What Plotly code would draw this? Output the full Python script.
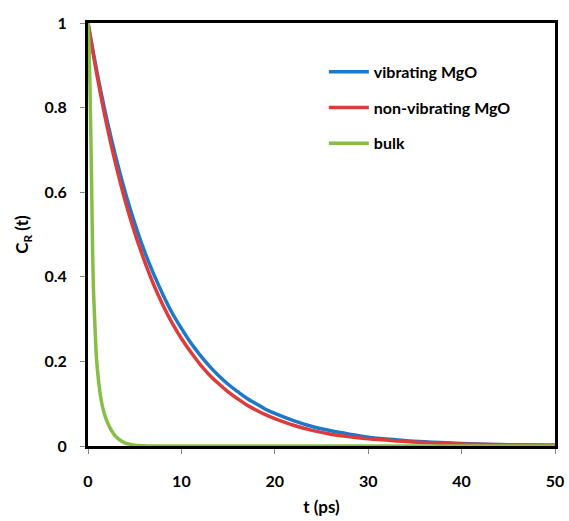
import plotly.graph_objects as go

# time (ps)
t_mgo = [0, 1, 2, 3, 4, 5, 6, 7, 8, 9, 10, 11, 12, 13, 14, 15, 16, 17, 18, 19, 20,
         22, 24, 26, 28, 30, 33, 36, 40, 45, 50]
vibrating = [1.000, 0.880, 0.774, 0.681, 0.599, 0.527, 0.463, 0.408, 0.359, 0.315, 0.278,
             0.244, 0.215, 0.189, 0.166, 0.146, 0.129, 0.113, 0.100, 0.087, 0.077,
             0.060, 0.046, 0.036, 0.028, 0.021, 0.015, 0.010, 0.006, 0.003, 0.002]
non_vibrating = [1.000, 0.872, 0.760, 0.663, 0.578, 0.504, 0.440, 0.383, 0.334, 0.291, 0.254,
                 0.222, 0.193, 0.168, 0.147, 0.128, 0.112, 0.097, 0.085, 0.074, 0.065,
                 0.049, 0.037, 0.028, 0.022, 0.017, 0.012, 0.008, 0.005, 0.003, 0.002]

t_bulk = [0, 0.1, 0.2, 0.3, 0.4, 0.5, 0.6, 0.75, 0.9, 1.1, 1.4, 1.7, 2.0, 2.5, 3.0, 3.5,
          4.0, 5.0, 6.0, 7.0, 10, 20, 30, 40, 50]
bulk = [1.000, 0.950, 0.860, 0.740, 0.600, 0.450, 0.360, 0.280, 0.210, 0.160, 0.110, 0.080,
        0.060, 0.037, 0.022, 0.013, 0.007, 0.002, 0.0005, 0.0, 0.0, 0.0, 0.0, 0.0, 0.0]

x_ticks = [0, 10, 20, 30, 40, 50]
y_ticks = [0, 0.2, 0.4, 0.6, 0.8, 1]
y_tick_text = ["0", "0.2", "0.4", "0.6", "0.8", "1"]

FONT = dict(family="Lato, Open Sans, sans-serif", size=16, color="black", weight="bold")

fig = go.Figure()
fig.add_trace(go.Scatter(x=t_mgo, y=vibrating, mode="lines", name="vibrating MgO",
                         line=dict(color="#1E78C8", width=3.5, shape="spline"),
                         legendgroup="a"))
fig.add_trace(go.Scatter(x=t_mgo, y=non_vibrating, mode="lines", name="non-vibrating MgO",
                         line=dict(color="#DE3C3C", width=3.5, shape="spline"),
                         legendgroup="b"))
fig.add_trace(go.Scatter(x=t_bulk, y=bulk, mode="lines", name="bulk",
                         line=dict(color="#86BE46", width=3.5, shape="spline"),
                         legendgroup="c"))

fig.update_layout(
    width=569, height=521,
    autosize=False,
    margin=dict(l=88, r=14, t=23, b=75, autoexpand=False),
    paper_bgcolor="white", plot_bgcolor="white",
    font=FONT,
    showlegend=True,
    legend=dict(x=0.505, y=0.925, xanchor="left", yanchor="top",
                bgcolor="rgba(0,0,0,0)", font=dict(size=16, weight="bold"),
                tracegroupgap=12, itemwidth=40),
    xaxis=dict(range=[0, 50], tickvals=x_ticks, ticks="outside", ticklen=5,
               tickcolor="#888", showgrid=False, zeroline=False, automargin=False,
               showline=True, linecolor="black", linewidth=3, mirror=True,
               ticklabelstandoff=14, layer="below traces",
               title=dict(text="t (ps)", font=dict(size=17, weight="bold"), standoff=12)),
    yaxis=dict(range=[0, 1], tickvals=y_ticks, ticktext=y_tick_text, ticks="outside",
               ticklen=5, tickcolor="#888", showgrid=False, zeroline=False, automargin=False,
               showline=True, linecolor="black", linewidth=3, mirror=True,
               ticklabelstandoff=10, layer="below traces",
               title=dict(text="C<sub>R</sub> (t)", font=dict(size=17, weight="bold"),
                          standoff=12)),
)

fig.write_html("out.html")
